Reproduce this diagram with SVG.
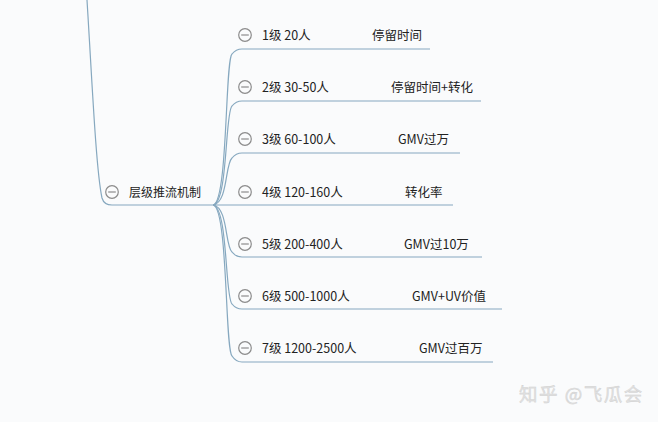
<svg xmlns="http://www.w3.org/2000/svg" width="658" height="422" viewBox="0 0 658 422">
<defs>
<style>
.ln{fill:none;stroke:#86a8bf;stroke-width:1.2}
.t{font-family:"Microsoft YaHei","Noto Sans CJK SC","Noto Sans",sans-serif;font-size:12.5px;fill:#222}
.c{fill:none;stroke:#8c8c8c;stroke-width:1.2}
.wm{font-family:"Noto Sans CJK SC","Noto Sans",sans-serif;font-size:18.5px;letter-spacing:1.5px;fill:#e2e2e2;stroke:#cfcfcf;stroke-width:0.4}
</style>
<g id="minus"><circle r="6.3" class="c"/><line x1="-3.8" y1="0" x2="3.8" y2="0" class="c"/></g>
</defs>
<rect width="658" height="422" fill="#fafbfc"/>
<g id="connectors">
<path class="ln" d="M87,0 C92,80 96,170 102,198 Q104,205 112,205 L213,205"/>
<path class="ln" d="M213,205 C228,203 225,60 232,54 Q236,49 242,49 L430,49"/>
<path class="ln" d="M213,205 C228,203 225,112 232,106 Q236,101 242,101 L481,101"/>
<path class="ln" d="M213,205 C228,203 225,164 232,158 Q236,153 242,153 L460,153"/>
<path class="ln" d="M213,205 L453,205"/>
<path class="ln" d="M213,205 C228,207 225,246 232,252 Q236,257 242,257 L482,257"/>
<path class="ln" d="M213,205 C228,207 225,298 232,304 Q236,309 242,309 L502,309"/>
<path class="ln" d="M213,205 C228,207 225,350 232,356 Q236,362 242,362 L493,362"/>
</g>
<g id="root"><use href="#minus" x="112" y="192"/><text class="t" x="129" y="197" style="font-size:12px">层级推流机制</text></g>
<g id="n1"><use href="#minus" x="245" y="35"/><text class="t" x="262" y="40">1级 20人</text><text class="t" x="372" y="40">停留时间</text></g>
<g id="n2"><use href="#minus" x="245" y="87"/><text class="t" x="262" y="92">2级 30-50人</text><text class="t" x="391" y="92">停留时间+转化</text></g>
<g id="n3"><use href="#minus" x="245" y="139"/><text class="t" x="262" y="144">3级 60-100人</text><text class="t" x="398" y="144">GMV过万</text></g>
<g id="n4"><use href="#minus" x="245" y="192"/><text class="t" x="262" y="197">4级 120-160人</text><text class="t" x="405" y="197">转化率</text></g>
<g id="n5"><use href="#minus" x="245" y="244"/><text class="t" x="262" y="249">5级 200-400人</text><text class="t" x="404" y="249">GMV过10万</text></g>
<g id="n6"><use href="#minus" x="245" y="296"/><text class="t" x="262" y="301">6级 500-1000人</text><text class="t" x="412" y="301">GMV+UV价值</text></g>
<g id="n7"><use href="#minus" x="245" y="348"/><text class="t" x="262" y="353">7级 1200-2500人</text><text class="t" x="419" y="353">GMV过百万</text></g>
<text class="wm" x="519" y="401">知乎 @飞瓜会</text>
</svg>
